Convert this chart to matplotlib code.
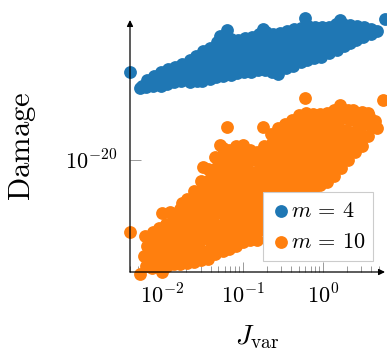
import numpy as np
import matplotlib
matplotlib.use("Agg")
import matplotlib.pyplot as plt
from matplotlib.ticker import FixedLocator, NullLocator, LogLocator

plt.rcParams['mathtext.fontset'] = 'cm'
plt.rcParams['font.family'] = ['DejaVu Serif']

# ---- data (log10 of J_var and log10 of Damage) ----
blue_log10_J = [
    -2.40,
    -2.27, -2.25,
    -2.19, -2.20,
    -2.10, -2.11,
    -2.01, -1.99, -2.02,
    -1.93, -1.91, -1.94,
    -1.84, -1.82, -1.85,
    -1.75, -1.73, -1.76,
    -1.66, -1.64, -1.68, -1.65,
    -1.58, -1.56, -1.60, -1.57,
    -1.49, -1.47, -1.51, -1.48, -1.50,
    -1.40, -1.38, -1.42, -1.39, -1.41,
    -1.32, -1.30, -1.34, -1.31, -1.33,
    -1.28, -1.19,
    -1.23, -1.21, -1.25, -1.22, -1.24,
    -1.14, -1.12, -1.16, -1.13, -1.15,
    -1.06, -1.04, -1.08, -1.05, -1.07,
    -0.97, -0.95, -0.99, -0.96, -0.98,
    -0.88, -0.86, -0.90, -0.87, -0.89,
    -0.80, -0.78, -0.82, -0.79, -0.81,
    -0.75,
    -0.71, -0.69, -0.73, -0.70, -0.72,
    -0.62, -0.60, -0.64, -0.61, -0.63,
    -0.53, -0.51, -0.55, -0.52, -0.54, -0.56,
    -0.45, -0.43, -0.47, -0.44, -0.46,
    -0.36, -0.34, -0.38, -0.35, -0.37,
    -0.27, -0.25, -0.29, -0.26, -0.28,
    -0.22,
    -0.19, -0.17, -0.21, -0.18, -0.20,
    -0.10, -0.08, -0.12, -0.09, -0.11,
    -0.01, 0.01, -0.03, 0.00, -0.02,
    0.07, 0.09, 0.05, 0.08,
    0.16, 0.18, 0.14, 0.17,
    0.21,
    0.25, 0.27, 0.23, 0.26,
    0.34, 0.36, 0.33,
    0.42, 0.44, 0.41,
    0.51, 0.50,
    0.60, 0.59,
    0.67,
    0.77,
]
blue_log10_damage = [
    -11.2,
    -12.8, -12.6,
    -12.0, -12.7,
    -11.6, -12.6,
    -11.2, -11.9, -12.6,
    -10.9, -11.65, -12.4,
    -10.7, -11.45, -12.2,
    -10.4, -11.25, -12.1,
    -10.0, -10.7, -11.5, -12.2,
    -9.6, -10.4, -11.3, -12.1,
    -9.1, -9.85, -10.6, -11.35, -12.1,
    -8.8, -9.6, -10.35, -11.1, -11.9,
    -8.2, -9.1, -9.95, -10.8, -11.7,
    -7.6, -7.0,
    -7.8, -8.75, -9.7, -10.65, -11.6,
    -7.9, -8.8, -9.7, -10.6, -11.5,
    -8.0, -8.8, -9.65, -10.5, -11.3,
    -7.8, -8.65, -9.5, -10.35, -11.2,
    -7.7, -8.6, -9.45, -10.3, -11.2,
    -7.4, -8.3, -9.2, -10.1, -11.0,
    -6.9,
    -7.2, -8.15, -9.1, -10.05, -11.0,
    -7.4, -8.35, -9.3, -10.25, -11.2,
    -7.3, -8.1, -8.95, -9.75, -10.6, -11.4,
    -7.1, -8.0, -8.95, -9.9, -10.8,
    -6.9, -7.8, -8.75, -9.7, -10.6,
    -6.8, -7.65, -8.5, -9.35, -10.2,
    -5.8,
    -6.6, -7.45, -8.3, -9.15, -10.0,
    -6.7, -7.5, -8.25, -9.0, -9.8,
    -6.7, -7.45, -8.2, -8.95, -9.7,
    -6.7, -7.55, -8.45, -9.3,
    -6.4, -7.25, -8.15, -9.0,
    -6.0,
    -6.4, -7.1, -7.85, -8.6,
    -6.5, -7.4, -8.3,
    -6.6, -7.3, -8.0,
    -6.7, -7.7,
    -6.9, -7.4,
    -7.1,
    -5.9,
]

orange_log10_J = [
    -2.21, -2.19, -2.23, -2.20,
    -2.12, -2.10, -2.14, -2.11, -2.13,
    -2.04, -2.02, -2.06, -2.03, -2.05,
    -1.95, -1.93, -1.97, -1.94, -1.96, -1.94,
    -1.86, -1.84, -1.88, -1.85, -1.87, -1.85,
    -1.78, -1.76, -1.80, -1.77, -1.79, -1.77, -1.78,
    -1.69, -1.67, -1.71, -1.68, -1.70, -1.68, -1.70, -1.69,
    -1.60, -1.58, -1.62, -1.59, -1.61, -1.59, -1.61, -1.60, -1.60,
    -1.52, -1.50, -1.54, -1.51, -1.53, -1.51, -1.53, -1.52, -1.52,
    -1.43, -1.41, -1.45, -1.42, -1.44, -1.42, -1.44, -1.43, -1.41, -1.43,
    -1.34, -1.32, -1.36, -1.33, -1.35, -1.33, -1.35, -1.34, -1.32, -1.36, -1.34,
    -1.25, -1.23, -1.27, -1.24, -1.26, -1.24, -1.26, -1.25, -1.23, -1.27, -1.24, -1.25,
    -1.17, -1.15, -1.19, -1.16, -1.18, -1.16, -1.18, -1.17, -1.15, -1.19, -1.17,
    -1.08, -1.06, -1.10, -1.07, -1.09, -1.07, -1.09, -1.08, -1.06, -1.10, -1.08,
    -0.99, -0.97, -1.01, -0.98, -1.00, -0.98, -1.00, -0.99, -0.97, -1.01, -0.99,
    -0.91, -0.89, -0.93, -0.90, -0.92, -0.90, -0.92, -0.91, -0.89, -0.91,
    -0.82, -0.80, -0.84, -0.81, -0.83, -0.81, -0.83, -0.82, -0.80, -0.82,
    -0.73, -0.71, -0.75, -0.72, -0.74, -0.72, -0.74, -0.73, -0.71, -0.73,
    -0.65, -0.63, -0.67, -0.64, -0.66, -0.64, -0.66, -0.65, -0.63, -0.67, -0.65,
    -0.56, -0.54, -0.58, -0.55, -0.57, -0.55, -0.57, -0.56, -0.54, -0.58, -0.56,
    -0.47, -0.45, -0.49, -0.46, -0.48, -0.46, -0.48, -0.47, -0.45, -0.47,
    -0.39, -0.37, -0.41, -0.38, -0.40, -0.38, -0.40, -0.39, -0.37, -0.39,
    -0.30, -0.28, -0.32, -0.29, -0.31, -0.29, -0.31, -0.30, -0.28, -0.30,
    -0.21, -0.19, -0.23, -0.20, -0.22, -0.20, -0.22, -0.21, -0.19, -0.21,
    -0.12, -0.10, -0.14, -0.11, -0.13, -0.11, -0.13, -0.12, -0.12,
    -0.04, -0.02, -0.06, -0.03, -0.05, -0.03, -0.05, -0.04, -0.04,
    0.05, 0.07, 0.03, 0.06, 0.04, 0.06, 0.04, 0.05,
    0.14, 0.16, 0.12, 0.15, 0.13, 0.15, 0.13, 0.14,
    0.22, 0.24, 0.20, 0.23, 0.21, 0.23, 0.22,
    0.31, 0.33, 0.29, 0.32, 0.30, 0.31,
    0.40, 0.42, 0.38, 0.41, 0.40,
    0.48, 0.50, 0.46, 0.49, 0.48,
    0.57, 0.59, 0.56,
    0.65, 0.67,
    -2.40, -2.27, -2.00, -2.00, -1.90, -1.75, -1.49, -1.30, -1.28, -1.19,
    -0.75, -0.22, 0.21, 0.37, 0.56, 0.75,
]
orange_log10_damage = [
    -27.6, -28.6, -29.6, -30.6,
    -27.2, -28.1, -29.0, -29.9, -30.8,
    -26.8, -27.8, -28.75, -29.7, -30.7,
    -26.4, -27.25, -28.1, -28.9, -29.75, -30.6,
    -25.6, -26.55, -27.5, -28.5, -29.45, -30.4,
    -24.9, -25.8, -26.7, -27.65, -28.55, -29.5, -30.4,
    -23.9, -24.8, -25.7, -26.65, -27.55, -28.45, -29.4, -30.3,
    -23.1, -24.0, -24.9, -25.75, -26.65, -27.55, -28.4, -29.3, -30.2,
    -22.1, -23.1, -24.1, -25.05, -26.05, -27.05, -28.0, -29.0, -30.0,
    -20.9, -21.9, -22.9, -23.9, -24.9, -25.9, -26.9, -27.9, -28.9, -29.9,
    -19.7, -20.7, -21.65, -22.6, -23.6, -24.55, -25.5, -26.5, -27.45, -28.4, -29.4,
    -18.8, -19.75, -20.7, -21.6, -22.55, -23.5, -24.4, -25.35, -26.3, -27.2, -28.15, -29.1,
    -19.0, -20.0, -21.0, -21.95, -22.95, -23.95, -24.95, -25.95, -26.9, -27.9, -28.9,
    -18.6, -19.6, -20.6, -21.6, -22.6, -23.6, -24.6, -25.6, -26.6, -27.6, -28.6,
    -18.5, -19.5, -20.45, -21.4, -22.4, -23.35, -24.3, -25.3, -26.25, -27.2, -28.2,
    -19.0, -20.0, -21.0, -22.0, -23.0, -24.0, -25.0, -26.0, -27.0, -28.0,
    -19.2, -20.2, -21.15, -22.1, -23.1, -24.1, -25.05, -26.0, -27.0, -28.0,
    -18.6, -19.55, -20.5, -21.4, -22.35, -23.25, -24.2, -25.15, -26.05, -27.0,
    -17.4, -18.3, -19.2, -20.1, -21.0, -21.95, -22.85, -23.75, -24.7, -25.6, -26.5,
    -16.8, -17.7, -18.65, -19.55, -20.5, -21.4, -22.3, -23.25, -24.15, -25.1, -26.0,
    -16.4, -17.4, -18.35, -19.35, -20.3, -21.3, -22.25, -23.25, -24.2, -25.2,
    -16.0, -16.95, -17.9, -18.85, -19.8, -20.7, -21.65, -22.6, -23.55, -24.5,
    -15.5, -16.45, -17.4, -18.35, -19.3, -20.2, -21.15, -22.1, -23.05, -24.0,
    -15.3, -16.2, -17.1, -18.05, -18.95, -19.85, -20.75, -21.7, -22.6, -23.5,
    -15.4, -16.35, -17.3, -18.25, -19.2, -20.15, -21.1, -22.05, -23.0,
    -15.4, -16.3, -17.2, -18.05, -18.95, -19.85, -20.75, -21.6, -22.5,
    -15.3, -16.3, -17.3, -18.25, -19.25, -20.25, -21.2, -22.2,
    -15.0, -15.95, -16.9, -17.85, -18.75, -19.7, -20.65, -21.6,
    -14.8, -15.8, -16.8, -17.8, -18.8, -19.8, -20.8,
    -15.0, -16.0, -17.0, -18.0, -19.0, -20.0,
    -15.2, -16.2, -17.2, -18.2, -19.2,
    -15.2, -16.05, -16.9, -17.75, -18.6,
    -15.6, -16.6, -17.6,
    -16.1, -16.8,
    -27.2, -31.4, -31.2, -25.3, -25.2, -24.3, -20.7, -21.0, -18.5, -16.7,
    -16.7, -13.8, -14.5, -15.0, -15.3, -14.0,
]

series_labels = ['$m\\,=\\,4$', '$m\\,=\\,10$']
series_colors = ['#1f77b4', '#ff7f0e']
x_tick_values = [1e-2, 1e-1, 1e0]
x_tick_labels = ['$10^{-2}$', '$10^{-1}$', '$10^{0}$']
y_tick_values = [1e-20]
y_tick_labels = ['$10^{-20}$']

# ---- figure ----
W, H = 387, 352
fig = plt.figure(figsize=(W / 100, H / 100), dpi=100)
ax = fig.add_axes([130 / W, 1 - 272 / H, 255 / W, 252 / H])
ax.set_xscale('log')
ax.set_yscale('log')
ax.set_xlim(10 ** -2.40, 10 ** 0.77)
ax.set_ylim(10 ** -31.2, 10 ** -6.0)

bx = 10 ** np.array(blue_log10_J)
by = 10 ** np.array(blue_log10_damage)
ox = 10 ** np.array(orange_log10_J)
oy = 10 ** np.array(orange_log10_damage)

ax.scatter(bx, by, s=85, c=series_colors[0], linewidths=0, clip_on=False,
           label=series_labels[0], zorder=3)
ax.scatter(ox, oy, s=85, c=series_colors[1], linewidths=0, clip_on=False,
           label=series_labels[1], zorder=3)

for s in ['top', 'right', 'left', 'bottom']:
    ax.spines[s].set_visible(False)

arrow = dict(arrowstyle='-|>', color='black', lw=0.9, mutation_scale=9,
             shrinkA=0, shrinkB=0)
ax.annotate('', xy=(0, 1.0), xytext=(0, 0), xycoords='axes fraction',
            arrowprops=arrow, zorder=5, annotation_clip=False)
ax.annotate('', xy=(1.0, 0), xytext=(0, 0), xycoords='axes fraction',
            arrowprops=arrow, zorder=5, annotation_clip=False)

ax.xaxis.set_major_locator(FixedLocator(x_tick_values))
ax.set_xticklabels(x_tick_labels)
ax.xaxis.set_minor_locator(LogLocator(base=10, subs=np.arange(2, 10)))
ax.xaxis.set_minor_formatter(plt.NullFormatter())
ax.yaxis.set_major_locator(FixedLocator(y_tick_values))
ax.set_yticklabels(y_tick_labels)
ax.yaxis.set_minor_locator(NullLocator())

ax.tick_params(axis='x', which='major', direction='in', length=7, width=0.7,
               color='#9a9a9a', labelsize=16, pad=9)
ax.tick_params(axis='x', which='minor', direction='in', length=4, width=0.7,
               color='#9a9a9a')
ax.tick_params(axis='y', which='major', direction='in', length=8, width=0.7,
               color='#9a9a9a', labelsize=16, pad=9)

ax.set_xlabel('$J_{\\mathrm{var}}$', fontsize=20)
ax.set_ylabel('$\\mathrm{Damage}$', fontsize=22)
ax.xaxis.set_label_coords(0.5, -0.205)
ax.yaxis.set_label_coords(-0.36, 0.5)

leg = ax.legend(loc='lower right', bbox_to_anchor=(0.953, 0.044), fontsize=16,
                frameon=True, fancybox=False, edgecolor='#cccccc',
                framealpha=1.0, borderpad=0.35, handletextpad=0.0,
                labelspacing=0.4, handlelength=0.9, borderaxespad=0)
leg.get_frame().set_linewidth(0.8)
leg.set_zorder(10)

fig.savefig('out.png', dpi=100)
